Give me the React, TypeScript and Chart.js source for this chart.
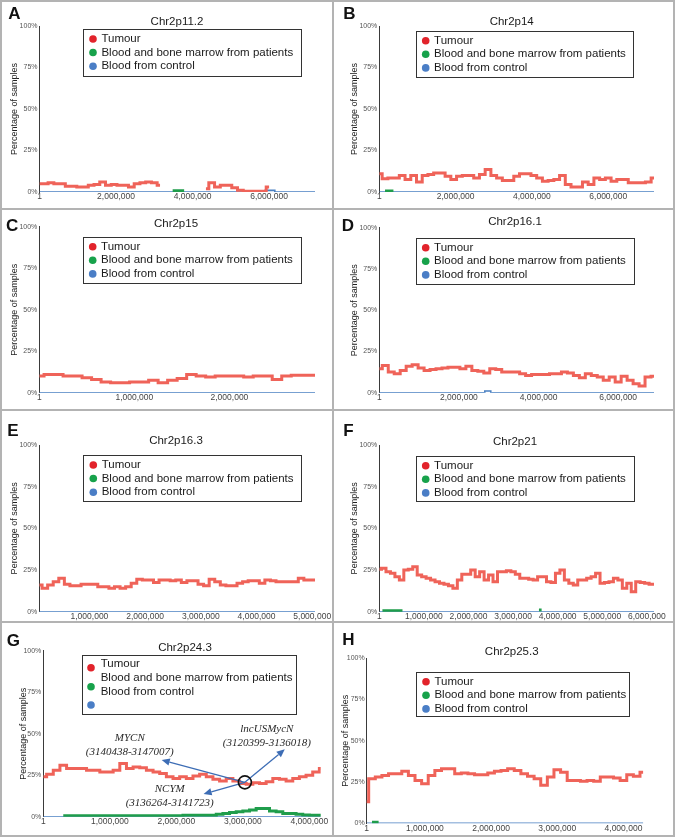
import React, { useEffect, useRef } from 'react';
import { Chart, registerables } from 'chart.js';

Chart.register(...registerables);

const FONT = '"Liberation Sans", Arial, Helvetica, sans-serif';
const SERIF = '"Liberation Serif", "Times New Roman", serif';
Chart.defaults.font.family = FONT;

// ---------------- shared ----------------
const SERIES_NAMES = ['Tumour', 'Blood and bone marrow from patients', 'Blood from control'];
const Y_TITLE = 'Percentage of samples';
const Y_MIN = 0;
const Y_MAX = 100;
const Y_STEP = 25;

// ---------------- Panel A ----------------
const A_TITLE = 'Chr2p11.2';
const A_MIN = 0, A_MAX = 7200000;
const A_TICKS = [0, 2000000, 4000000, 6000000];
const A_TICK_LABELS = ['1', '2,000,000', '4,000,000', '6,000,000'];
const A_TUMOUR_START = 0, A_TUMOUR_STEP = 150000;
const A_TUMOUR = [5, 5, 5.5, 5, 5, 3.5, 3.5, 3, 3, 4, 4.5, 6, 4, 4.5, 4, 4, 3, 5, 5.5, 6, 5.5, 4,
  null, null, null, null, null, null, null,
  2, 5.5, 3, 4, 4, 2.5, 1, 0.5, 0.5, 0.5, 0.5, 3];
const A_GREEN_POS = [3480000, 3780000];
const A_GREEN = [0.8, 0.8];
const A_BLUE_POS = [0, 5900000, 6150000, 7200000];
const A_BLUE = [0, 1, 0, 0];

// ---------------- Panel B ----------------
const B_TITLE = 'Chr2p14';
const B_MIN = 0, B_MAX = 7200000;
const B_TICKS = [0, 2000000, 4000000, 6000000];
const B_TICK_LABELS = ['1', '2,000,000', '4,000,000', '6,000,000'];
const B_TUMOUR_START = 0, B_TUMOUR_STEP = 150000;
const B_TUMOUR = [11, 8, 8.5, 8.5, 10, 7.5, 10, 6, 10, 10.5, 11.5, 11.5, 9.5, 7.5, 9.5, 10, 10, 8.5, 10.5, 13.5,
  10, 8.5, 7, 7, 9.5, 11, 11, 10, 8.5, 6.5, 7, 7.5, 10, 4.5, 3, 3, 6, 4.5, 8.5, 7.5,
  8.5, 6.5, 7.5, 7.5, 5.5, 5.5, 5.5, 6, 8.5];
const B_GREEN_POS = [150000, 370000];
const B_GREEN = [0.6, 0.6];
const B_BLUE_POS = [0, 7200000];
const B_BLUE = [0, 0];

// ---------------- Panel C ----------------
const C_TITLE = 'Chr2p15';
const C_MIN = 0, C_MAX = 2900000;
const C_TICKS = [0, 1000000, 2000000];
const C_TICK_LABELS = ['1', '1,000,000', '2,000,000'];
const C_TUMOUR_START = 0, C_TUMOUR_STEP = 100000;
const C_TUMOUR = [10, 11, 11, 10, 10, 9, 8, 6.5, 6, 6, 6.5, 6.5, 7.5, 6, 7.5, 8.5, 11, 10, 9.5, 10,
  10, 10, 9.5, 10, 10, 8, 10, 10.5, 10.5, 10.5];
const C_GREEN_POS: number[] = [];
const C_GREEN: number[] = [];
const C_BLUE_POS = [0, 2900000];
const C_BLUE = [0, 0];

// ---------------- Panel D ----------------
const D_TITLE = 'Chr2p16.1';
const D_MIN = 0, D_MAX = 6900000;
const D_TICKS = [0, 2000000, 4000000, 6000000];
const D_TICK_LABELS = ['1', '2,000,000', '4,000,000', '6,000,000'];
const D_TUMOUR_START = 0, D_TUMOUR_STEP = 150000;
const D_TUMOUR = [14.5, 16.5, 12.5, 11.5, 13.5, 16, 17, 15, 13.5, 14, 14.5, 15, 15.5, 15.5, 14.5, 16, 13.5, 13, 12, 14.5,
  14, 12.5, 12.5, 12.5, 11.5, 10.5, 11, 11, 11, 11.5, 11.5, 12.5, 12, 10.5, 9, 11.5, 10.5, 9.5, 7.5, 9.5,
  6.5, 10, 7.5, 5.5, 4, 9.5, 10];
const D_GREEN_POS: number[] = [];
const D_GREEN: number[] = [];
const D_BLUE_POS = [0, 2650000, 2800000, 6900000];
const D_BLUE = [0, 1, 0, 0];

// ---------------- Panel E ----------------
const E_TITLE = 'Chr2p16.3';
const E_MIN = 100000, E_MAX = 5050000;
const E_TICKS = [1000000, 2000000, 3000000, 4000000, 5000000];
const E_TICK_LABELS = ['1,000,000', '2,000,000', '3,000,000', '4,000,000', '5,000,000'];
const E_TUMOUR_START = 100000, E_TUMOUR_STEP = 100000;
const E_TUMOUR = [16, 14, 16, 18, 20, 16.5, 15.5, 15.5, 16.5, 16.5, 16.5, 15, 15, 14, 15, 14, 15, 17, 19.5, 19,
  19, 17.5, 19, 19, 18.5, 19, 17.5, 18.5, 18.5, 16.5, 15.5, 19.5, 18, 16, 15.5, 15.5, 17, 18, 18.5, 18.5,
  17, 19, 18.5, 18, 18, 18, 18, 20, 19, 19, 19];
const E_GREEN_POS: number[] = [];
const E_GREEN: number[] = [];
const E_BLUE_POS = [100000, 5050000];
const E_BLUE = [0, 0];

// ---------------- Panel F ----------------
const F_TITLE = 'Chr2p21';
const F_MIN = 0, F_MAX = 6160000;
const F_TICKS = [0, 1000000, 2000000, 3000000, 4000000, 5000000, 6000000];
const F_TICK_LABELS = ['1', '1,000,000', '2,000,000', '3,000,000', '4,000,000', '5,000,000', '6,000,000'];
const F_TUMOUR_START = 0, F_TUMOUR_STEP = 100000;
const F_TUMOUR = [25.5, 26, 24, 23, 21, 19, 25, 25.5, 27, 22, 21, 20, 19, 18, 17, 16.5, 15.5, 14, 19, 22.5,
  22.5, 25, 21, 24, 19, 22, 18, 24, 24, 24.5, 24, 22.5, 20, 20, 19.5, 19, 21, 21, 18, 17.5,
  23, 25, 19, 17, 16, 19, 19, 20, 21, 23, 17, 17.5, 18, 20, 19, 14, 17, 12, 18, 17.5,
  17, 16.5, 16.5];
const F_GREEN_POS = [70000, 520000, 530000, 3580000, 3640000];
const F_GREEN = [0.5, 0.5, null, 1, 1];
const F_BLUE_POS = [0, 6160000];
const F_BLUE = [0, 0];

// ---------------- Panel G ----------------
const G_TITLE = 'Chr2p24.3';
const G_MIN = 0, G_MAX = 4170000;
const G_TICKS = [0, 1000000, 2000000, 3000000, 4000000];
const G_TICK_LABELS = ['1', '1,000,000', '2,000,000', '3,000,000', '4,000,000'];
const G_TUMOUR_START = 0, G_TUMOUR_STEP = 100000;
const G_TUMOUR = [24, 25.5, 28, 31, 29, 29, 29, 28, 28, 27, 27, 28, 32, 29, 30, 29.5, 28, 27, 26, 24,
  23, 24, 23, 24.5, 25.5, 24, 22.5, 21.5, 23, 21.5, 20, 19.5, 20.5, 20, 21, 23, 22.5, 21.5, 23, 24,
  25, 27, 29];
const G_GREEN_START = 300000, G_GREEN_STEP = 100000;
const G_GREEN = [0.5, 0.5, 0.5, 0.5, 0.5, 0.5, 0.5, 0.5, 0.5, 0.5, 0.5, 0.5, 0.5, 0.5, 0.5, 0.5, 0.5, 0.5,
  0.8, 0.8, 0.8, 0.8, 0.8, 1.5, 2, 2.5, 3, 3.5, 4, 5, 5, 3.5, 3, 2, 2, 1.5, 1, 0.8, 0.8, 0.8];
const G_BLUE_POS = [0, 4170000];
const G_BLUE = [0, 0];
const G_LOCUS = { x: 3030000, y: 20.7 };
const G_GENES = [
  { name: 'MYCN', range: '(3140438-3147007)', tx: 1300000, ty: 47.2, ry: 39.2, ax: 1780000, ay: 34.2 },
  { name: 'lncUSMycN', range: '(3120399-3136018)', tx: 3360000, ty: 52.7, ry: 44.2, ax: 3630000, ay: 40.6 },
  { name: 'NCYM', range: '(3136264-3141723)', tx: 1900000, ty: 16.5, ry: 8.4, ax: 2410000, ay: 13.7 },
];

// ---------------- Panel H ----------------
const H_TITLE = 'Chr2p25.3';
const H_MIN = 120000, H_MAX = 4300000;
const H_TICKS = [120000, 1000000, 2000000, 3000000, 4000000];
const H_TICK_LABELS = ['1', '1,000,000', '2,000,000', '3,000,000', '4,000,000'];
const H_TUMOUR_START = 100000, H_TUMOUR_STEP = 100000;
const H_TUMOUR = [13, 27, 28, 29, 30, 30, 31.5, 29, 26, 24, 29, 32, 33, 33, 30, 30.5, 30, 29.5, 29.5, 30.5,
  31.5, 32, 33, 32, 30, 28.5, 27, 23, 28, 32.5, 31, 26, 26, 25.5, 26, 25.5, 28, 28, 27.5, 26,
  29.5, 28.5, 31];
const H_GREEN_POS = [200000, 300000];
const H_GREEN = [0.7, 0.7];
const H_BLUE_POS = [120000, 4300000];
const H_BLUE = [0, 0];

// ---------------- colours ----------------
const RED_LINE = '#ef6359';
const GREEN_LINE = '#1f9d4b';
const BLUE_LINE = '#4a80c2';
const RED_DOT = '#e2232b';
const GREEN_DOT = '#17a24b';
const BLUE_DOT = '#4a7ec6';
const FRAME = '#b3b3b3';

type Pt = { x: number; y: number | null };
const stepSeries = (start: number, step: number, vals: (number | null)[]): Pt[] =>
  vals.map((v, i) => ({ x: start + i * step, y: v }));
const pairSeries = (pos: number[], vals: (number | null)[]): Pt[] =>
  pos.map((p, i) => ({ x: p, y: vals[i] }));

const DEFAULT_ROWS = [10, 23.5, 37.2];

const PANELS: any[] = [
  {
    letter: 'A', title: A_TITLE, min: A_MIN, max: A_MAX, ticks: A_TICKS, tickLabels: A_TICK_LABELS,
    tumour: stepSeries(A_TUMOUR_START, A_TUMOUR_STEP, A_TUMOUR), green: pairSeries(A_GREEN_POS, A_GREEN), blue: pairSeries(A_BLUE_POS, A_BLUE),
    canvas: { x: 0, y: 0, w: 345 }, area: { l: 39.5, t: 26, r: 315, b: 192 },
    letterPos: [8.3, 19.3], titlePos: [177, 22], legendBox: [83, 29, 218, 47], yTitleX: 15,
  },
  {
    letter: 'B', title: B_TITLE, min: B_MIN, max: B_MAX, ticks: B_TICKS, tickLabels: B_TICK_LABELS,
    tumour: stepSeries(B_TUMOUR_START, B_TUMOUR_STEP, B_TUMOUR), green: pairSeries(B_GREEN_POS, B_GREEN), blue: pairSeries(B_BLUE_POS, B_BLUE),
    canvas: { x: 334, y: 0, w: 341 }, area: { l: 379.3, t: 26, r: 654, b: 192 },
    letterPos: [343.3, 19.3], titlePos: [511.7, 22], legendBox: [415.7, 30.7, 217, 46], yTitleX: 354.3,
  },
  {
    letter: 'C', title: C_TITLE, min: C_MIN, max: C_MAX, ticks: C_TICKS, tickLabels: C_TICK_LABELS,
    tumour: stepSeries(C_TUMOUR_START, C_TUMOUR_STEP, C_TUMOUR), green: pairSeries(C_GREEN_POS, C_GREEN), blue: pairSeries(C_BLUE_POS, C_BLUE),
    canvas: { x: 0, y: 209, w: 345 }, area: { l: 39.3, t: 226.7, r: 315, b: 392.7 },
    letterPos: [6, 231], titlePos: [176, 224], legendBox: [82.7, 236.7, 218.3, 45.6], yTitleX: 15,
  },
  {
    letter: 'D', title: D_TITLE, min: D_MIN, max: D_MAX, ticks: D_TICKS, tickLabels: D_TICK_LABELS,
    tumour: stepSeries(D_TUMOUR_START, D_TUMOUR_STEP, D_TUMOUR), green: pairSeries(D_GREEN_POS, D_GREEN), blue: pairSeries(D_BLUE_POS, D_BLUE),
    canvas: { x: 334, y: 209, w: 341 }, area: { l: 379.3, t: 227.7, r: 654, b: 392.7 },
    letterPos: [341.7, 231], titlePos: [515, 221.7], legendBox: [415.7, 237.7, 217.6, 45.6], yTitleX: 355,
  },
  {
    letter: 'E', title: E_TITLE, min: E_MIN, max: E_MAX, ticks: E_TICKS, tickLabels: E_TICK_LABELS,
    tumour: stepSeries(E_TUMOUR_START, E_TUMOUR_STEP, E_TUMOUR), green: pairSeries(E_GREEN_POS, E_GREEN), blue: pairSeries(E_BLUE_POS, E_BLUE),
    canvas: { x: 0, y: 410, w: 345 }, area: { l: 39.3, t: 445, r: 315, b: 611.7 },
    letterPos: [7.3, 436], titlePos: [176, 440.7], legendBox: [83.3, 455, 218.4, 46], yTitleX: 15,
  },
  {
    letter: 'F', title: F_TITLE, min: F_MIN, max: F_MAX, ticks: F_TICKS, tickLabels: F_TICK_LABELS,
    tumour: stepSeries(F_TUMOUR_START, F_TUMOUR_STEP, F_TUMOUR), green: pairSeries(F_GREEN_POS, F_GREEN), blue: pairSeries(F_BLUE_POS, F_BLUE),
    canvas: { x: 334, y: 410, w: 341 }, area: { l: 379.3, t: 445, r: 654, b: 611.7 },
    letterPos: [343.3, 436], titlePos: [515, 441.7], legendBox: [415.7, 455.7, 218.3, 45.3], yTitleX: 355,
  },
  {
    letter: 'G', title: G_TITLE, min: G_MIN, max: G_MAX, ticks: G_TICKS, tickLabels: G_TICK_LABELS,
    tumour: stepSeries(G_TUMOUR_START, G_TUMOUR_STEP, G_TUMOUR), green: stepSeries(G_GREEN_START, G_GREEN_STEP, G_GREEN), blue: pairSeries(G_BLUE_POS, G_BLUE),
    canvas: { x: 0, y: 622, w: 345 }, area: { l: 43.3, t: 650.7, r: 320.7, b: 816.7 },
    letterPos: [6.7, 646], titlePos: [185, 647.7], legendBox: [82.3, 655, 213.7, 59.3], yTitleX: 23.3,
    textRows: [9, 23.3, 36.7], dotRows: [12.7, 31.7, 50], dotX: 8.7,
    locus: G_LOCUS, genes: G_GENES,
  },
  {
    letter: 'H', title: H_TITLE, min: H_MIN, max: H_MAX, ticks: H_TICKS, tickLabels: H_TICK_LABELS,
    tumour: stepSeries(H_TUMOUR_START, H_TUMOUR_STEP, H_TUMOUR), green: pairSeries(H_GREEN_POS, H_GREEN), blue: pairSeries(H_BLUE_POS, H_BLUE),
    canvas: { x: 334, y: 622, w: 341 }, area: { l: 366.7, t: 658.3, r: 643.3, b: 823.3 },
    letterPos: [342.3, 645], titlePos: [511.7, 652.3], legendBox: [416, 671.7, 213, 44.3], yTitleX: 345.7,
  },
];

const HX = 14;

function drawArrow(ctx: CanvasRenderingContext2D, x1: number, y1: number, x2: number, y2: number) {
  const ang = Math.atan2(y2 - y1, x2 - x1);
  const L = 8, W = 3.6;
  const bx = x2 - L * Math.cos(ang), by = y2 - L * Math.sin(ang);
  ctx.beginPath();
  ctx.moveTo(x1, y1);
  ctx.lineTo(bx, by);
  ctx.stroke();
  ctx.beginPath();
  ctx.moveTo(x2, y2);
  ctx.lineTo(bx + W * Math.sin(ang), by - W * Math.cos(ang));
  ctx.lineTo(bx - W * Math.sin(ang), by + W * Math.cos(ang));
  ctx.closePath();
  ctx.fill();
}

function decorPlugin(p: any) {
  return {
    id: 'decor' + p.letter,
    afterDraw(chart: any) {
      const ctx: CanvasRenderingContext2D = chart.ctx;
      const ox = p.canvas.x, oy = p.canvas.y;
      ctx.save();
      // panel letter
      ctx.fillStyle = '#111';
      ctx.font = `bold 17px ${FONT}`;
      ctx.textAlign = 'left';
      ctx.textBaseline = 'alphabetic';
      ctx.fillText(p.letter, p.letterPos[0] - ox, p.letterPos[1] - oy);
      // title
      ctx.font = `11.5px ${FONT}`;
      ctx.fillStyle = '#1a1a1a';
      ctx.textAlign = 'center';
      ctx.textBaseline = 'middle';
      ctx.fillText(p.title, p.titlePos[0] - ox, p.titlePos[1] - oy);
      // legend box
      const [bx, by, bw, bh] = p.legendBox;
      const lx = bx - ox, ly = by - oy;
      ctx.strokeStyle = '#333';
      ctx.lineWidth = 1;
      ctx.strokeRect(Math.round(lx) + 0.5, Math.round(ly) + 0.5, Math.round(bw), Math.round(bh));
      const textRows = p.textRows || DEFAULT_ROWS;
      const dotRows = p.dotRows || DEFAULT_ROWS;
      const dotX = p.dotX || 10;
      const dotCols = [RED_DOT, GREEN_DOT, BLUE_DOT];
      ctx.textAlign = 'left';
      ctx.font = `11.5px ${FONT}`;
      for (let i = 0; i < 3; i++) {
        ctx.fillStyle = dotCols[i];
        ctx.beginPath();
        ctx.arc(lx + dotX, ly + dotRows[i], 3.8, 0, Math.PI * 2);
        ctx.fill();
        ctx.fillStyle = '#1a1a1a';
        ctx.fillText(SERIES_NAMES[i], lx + 18.4, ly + textRows[i]);
      }
      // annotations
      if (p.genes) {
        const xs = chart.scales.x, ys = chart.scales.y;
        const cx = xs.getPixelForValue(p.locus.x), cy = ys.getPixelForValue(p.locus.y);
        ctx.strokeStyle = '#3d6db5';
        ctx.fillStyle = '#3d6db5';
        ctx.lineWidth = 1.3;
        for (const g of p.genes) {
          drawArrow(ctx, cx, cy, xs.getPixelForValue(g.ax), ys.getPixelForValue(g.ay));
        }
        ctx.strokeStyle = '#111';
        ctx.lineWidth = 1.6;
        ctx.beginPath();
        ctx.arc(cx, cy, 6.5, 0, Math.PI * 2);
        ctx.stroke();
        ctx.fillStyle = '#2a2a2a';
        ctx.font = `italic 11px ${SERIF}`;
        ctx.textAlign = 'center';
        for (const g of p.genes) {
          const tx = xs.getPixelForValue(g.tx);
          ctx.fillText(g.name, tx, ys.getPixelForValue(g.ty));
          ctx.fillText(g.range, tx, ys.getPixelForValue(g.ry));
        }
      }
      ctx.restore();
    },
  };
}

function buildConfig(p: any, height: number): any {
  const c = p.canvas, a = p.area;
  return {
    type: 'line',
    data: {
      datasets: [
        { label: SERIES_NAMES[0], data: p.tumour, borderColor: RED_LINE, backgroundColor: RED_LINE, borderWidth: 3, pointRadius: 0, stepped: 'middle', spanGaps: false, order: 0 },
        { label: SERIES_NAMES[1], data: p.green, borderColor: GREEN_LINE, backgroundColor: GREEN_LINE, borderWidth: 3, pointRadius: 0, stepped: true, spanGaps: false, order: 1 },
        { label: SERIES_NAMES[2], data: p.blue, borderColor: BLUE_LINE, backgroundColor: BLUE_LINE, borderWidth: 1.6, pointRadius: 0, stepped: true, order: 2 },
      ],
    },
    options: {
      animation: false,
      responsive: false,
      maintainAspectRatio: false,
      events: [],
      layout: {
        padding: { left: 0, top: a.t - c.y, right: c.x + c.w - a.r, bottom: c.y + height - a.b - HX },
      },
      plugins: { legend: { display: false }, title: { display: false }, tooltip: { enabled: false } },
      scales: {
        x: {
          type: 'linear',
          min: p.min,
          max: p.max,
          bounds: 'data',
          afterBuildTicks: (s: any) => { s.ticks = p.ticks.map((v: number) => ({ value: v })); },
          afterFit: (s: any) => { s.height = HX; },
          ticks: {
            autoSkip: false, maxRotation: 0, minRotation: 0, padding: 0,
            font: { size: 8.5, family: FONT }, color: '#444',
            callback: (_v: any, i: number) => p.tickLabels[i],
          },
          grid: { display: false, drawTicks: false },
          border: { display: false },
        },
        y: {
          min: Y_MIN,
          max: Y_MAX,
          afterFit: (s: any) => { s.width = a.l - c.x; },
          ticks: {
            stepSize: Y_STEP, padding: 2,
            font: { size: 7, family: FONT }, color: '#555',
            callback: (v: any) => v + '%',
          },
          grid: { display: false, drawTicks: false },
          border: { display: true, color: '#3a3a3a', width: 1 },
          title: {
            display: true, text: Y_TITLE, color: '#222',
            font: { size: 9, family: FONT },
            padding: { top: p.yTitleX - c.x - 5.4, bottom: 0 },
          },
        },
      },
    },
    plugins: [decorPlugin(p)],
  };
}

function Panel({ p }: { p: any }) {
  const ref = useRef<HTMLCanvasElement>(null);
  const height = Math.ceil(p.area.b + HX + 4 - p.canvas.y);
  useEffect(() => {
    const chart = new Chart(ref.current as HTMLCanvasElement, buildConfig(p, height));
    return () => chart.destroy();
  }, []);
  return (
    <canvas
      ref={ref}
      width={p.canvas.w}
      height={height}
      style={{ position: 'absolute', left: p.canvas.x, top: p.canvas.y, width: p.canvas.w, height }}
    />
  );
}

export default function App() {
  const line = (style: React.CSSProperties) => (
    <div style={{ position: 'absolute', background: FRAME, ...style }} />
  );
  return (
    <div style={{ position: 'absolute', left: 0, top: 0, width: 675, height: 837, background: '#fff', overflow: 'hidden' }}>
      {line({ left: 0, top: 0, width: 675, height: 2 })}
      {line({ left: 0, top: 835, width: 675, height: 2 })}
      {line({ left: 0, top: 0, width: 2, height: 837 })}
      {line({ left: 673, top: 0, width: 2, height: 837 })}
      {line({ left: 332, top: 0, width: 2, height: 837 })}
      {line({ left: 0, top: 208, width: 675, height: 2 })}
      {line({ left: 0, top: 409, width: 675, height: 2 })}
      {line({ left: 0, top: 621, width: 675, height: 2 })}
      {PANELS.map((p) => <Panel key={p.letter} p={p} />)}
    </div>
  );
}
